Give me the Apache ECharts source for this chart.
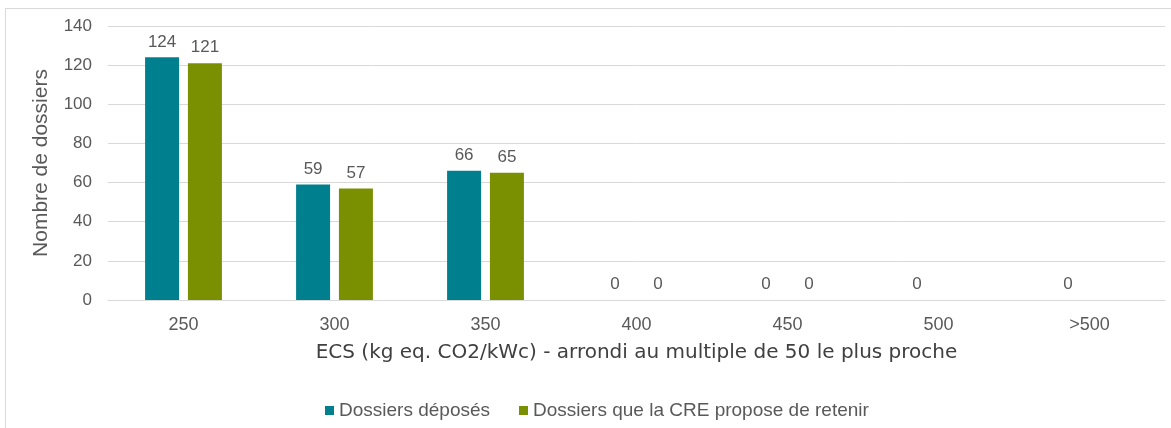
<!DOCTYPE html>
<html>
<head>
<meta charset="utf-8">
<script src="https://cdn.jsdelivr.net/npm/echarts@6/dist/echarts.min.js"></script>
<style>
    html, body { margin: 0; padding: 0; background: #fff; overflow: hidden; }
    #main { width: 1171px; height: 428px; }
    .frame { position: absolute; left: 5px; top: 8px; width: 1200px; height: 440px; border: 1px solid #d9d9d9; pointer-events: none; }
</style>
</head>
<body>
<div id="main"></div>
<div class="frame"></div>
<script>
const categories = ['250', '300', '350', '400', '450', '500', '>500'];
const deposes = [124, 59, 66, 0, 0, 0, 0];
const retenus = [121, 57, 65, 0, 0, null, null];
const yTicks = [0, 20, 40, 60, 80, 100, 120, 140];

const teal = '#00808f';
const green = '#7a9000';
const txt = '#595959';

const myChart = echarts.init(document.getElementById('main'));

const labelOption = {
    show: true,
    position: 'top',
    distance: 7,
    color: txt,
    fontSize: 17,
    fontFamily: 'Liberation Sans'
};

const option = {
    animation: false,
    grid: { left: 108, right: 6, top: 26, height: 274 },
    legend: {
        top: 396,
        left: 320,
        itemWidth: 9,
        itemHeight: 9,
        itemGap: 29,
        icon: 'rect',
        textStyle: { color: txt, fontSize: 19, fontFamily: 'Liberation Sans' },
        data: ['Dossiers déposés', 'Dossiers que la CRE propose de retenir']
    },
    xAxis: {
        type: 'category',
        data: categories,
        axisTick: { show: false },
        axisLine: { lineStyle: { color: '#d9d9d9' } },
        axisLabel: { color: txt, fontSize: 18, fontFamily: 'Liberation Sans', margin: 16 },
        name: 'ECS (kg eq. CO2/kWc) - arrondi au multiple de 50 le plus proche',
        nameLocation: 'middle',
        nameGap: 43,
        nameTextStyle: { color: '#404040', fontSize: 20, fontFamily: 'DejaVu Sans' }
    },
    yAxis: {
        type: 'value',
        min: yTicks[0],
        max: yTicks[yTicks.length - 1],
        interval: 20,
        splitLine: { lineStyle: { color: '#d9d9d9' } },
        axisLabel: { color: txt, fontSize: 17, fontFamily: 'Liberation Sans', margin: 16 },
        name: 'Nombre de dossiers',
        nameLocation: 'middle',
        nameGap: 56,
        nameTextStyle: { color: txt, fontSize: 21, fontFamily: 'Liberation Sans' }
    },
    series: [
        {
            name: 'Dossiers déposés',
            type: 'bar',
            barWidth: 34,
            barGap: '26%',
            itemStyle: { color: teal },
            label: labelOption,
            data: deposes
        },
        {
            name: 'Dossiers que la CRE propose de retenir',
            type: 'bar',
            barWidth: 34,
            itemStyle: { color: green },
            label: labelOption,
            data: retenus
        }
    ]
};

myChart.setOption(option);
</script>
</body>
</html>
